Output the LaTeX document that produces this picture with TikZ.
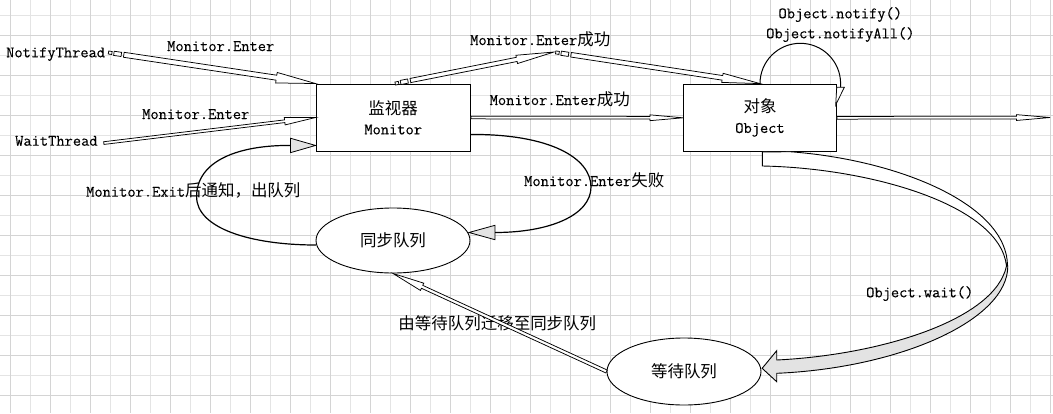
\documentclass[tikz,border=0pt]{standalone}
\usepackage{fontspec}
\setmonofont[FakeBold=0.25]{Latin Modern Mono}
\newfontfamily\cjkfont[Scale=1.03]{Noto Sans CJK SC}
\usetikzlibrary{calc,shapes.geometric}
\definecolor{gridmaj}{HTML}{D4D4D4}
\definecolor{gridmin}{HTML}{E4E4E4}
\definecolor{headgray}{HTML}{E3E3E3}
\tikzset{
  lbl/.style={font=\ttfamily\fontsize{16}{20}\selectfont, inner sep=0pt},
  box/.style={draw=black, line width=0.9pt, fill=white, rectangle, align=center, inner sep=0pt,
    font=\ttfamily\fontsize{16}{20}\selectfont},
  ell/.style={draw=black, line width=0.9pt, fill=white, ellipse, inner sep=0pt,
    font=\fontsize{16}{20}\selectfont},
  hollowline/.style={draw=black, line width=0.75pt, fill=white, line join=miter},
  curvearr/.style={draw=black, line width=1.2pt},
  grayhead/.style={draw=black, line width=0.8pt, fill=headgray, line join=miter},
  ribbon/.style={draw=black, line width=0.9pt, line join=miter},
  gridmajor/.style={draw=gridmaj, line width=1pt},
  gridminor/.style={draw=gridmin, line width=1pt},
}
% #1 from, #2 to, #3 head length, #4 head half width, #5 band half width, #6 start dashes (0/1)
\newcommand\hollowarrow[6]{%
  \path let \p1=(#1), \p2=(#2) in \pgfextra{%
    \pgfmathparse{atan2(\y2-\y1,\x2-\x1)}\xdef\HAang{\pgfmathresult}%
    \pgfmathparse{veclen(\x2-\x1,\y2-\y1)}\xdef\HAlen{\pgfmathresult}%
    \xdef\HAx{\x1}\xdef\HAy{\y1}};
  \begin{scope}[shift={(\HAx,\HAy)}, rotate=\HAang]
    \ifnum#6=1
      \draw[hollowline] (0pt,-1.5pt) -- (3.5pt,-1.5pt) -- (3.5pt,1.5pt) -- (0pt,1.5pt) -- cycle;
      \draw[hollowline] (5.5pt,-2.1pt) -- (13pt,-2.1pt) -- (13pt,2.1pt) -- (5.5pt,2.1pt) -- cycle;
      \def\HAs{15.5}%
    \else
      \def\HAs{0}%
    \fi
    \draw[hollowline] (\HAs pt,-#5pt) -- ({\HAlen pt-#3pt},-#5pt) -- ({\HAlen pt-#3pt},-#4pt)
      -- (\HAlen pt,0pt) -- ({\HAlen pt-#3pt},#4pt) -- ({\HAlen pt-#3pt},#5pt) -- (\HAs pt,#5pt) -- cycle;
  \end{scope}
}
\begin{document}
\begin{tikzpicture}[x=1pt,y=-1pt]
\useasboundingbox (0,0) rectangle (1053,413);
\fill[white] (0,0) rectangle (1053,413);
% grid
\foreach \gx in {30.5,70.5,...,1031} \draw[gridminor] (\gx,0) -- (\gx,413);
\foreach \gy in {15.5,55.5,...,376} \draw[gridminor] (0,\gy) -- (1053,\gy);
\foreach \gx in {10.5,50.5,...,1051} \draw[gridmajor] (\gx,0) -- (\gx,413);
\foreach \gy in {35.5,75.5,...,396} \draw[gridmajor] (0,\gy) -- (1053,\gy);

% main nodes
\node[box, minimum width=154.5pt, minimum height=67pt] (mon) at (393.2,117.5) {{\cjkfont 监视器}\\Monitor};
\node[box, minimum width=153pt, minimum height=67.5pt] (obj) at (760,117.8) {{\cjkfont 对象}\\Object};
\node[ell, minimum width=154pt, minimum height=65pt] (sq) at (393,240.5) {\cjkfont 同步队列};
\node[ell, minimum width=154pt, minimum height=67pt] (wq) at (684,371.5) {\cjkfont 等待队列};

% text nodes
\node[lbl, anchor=base west] (nt) at (6,57.3) {NotifyThread};
\node[lbl, anchor=base west] (wt) at (15,145.7) {WaitThread};
\node[lbl, anchor=base west] (l1) at (167,51) {Monitor.Enter};
\node[lbl, anchor=base west] (l2) at (142,119) {Monitor.Enter};
\node[lbl, anchor=base west] (l3) at (470,45) {Monitor.Enter{\cjkfont 成功}};
\node[lbl, anchor=base west] (l4) at (489.5,105) {Monitor.Enter{\cjkfont 成功}};
\node[lbl, anchor=base west] (l5) at (778.3,18.3) {Object.notify()};
\node[lbl, anchor=base west] (l6) at (766,38.3) {Object.notifyAll()};
\node[lbl, anchor=base west] (l7) at (86,196.7) {Monitor.Exit{\cjkfont 后通知，出队列}};
\node[lbl, anchor=base west] (l8) at (524,186) {Monitor.Enter{\cjkfont 失败}};
\node[lbl, anchor=base west] (l9) at (866,297.3) {Object.wait()};
\node[lbl] (l10) at (497.3,323.3) {\cjkfont 由等待队列迁移至同步队列};

% connector end points
\coordinate (ntS) at ($(nt.east)+(3.2,-1.7)$);
\coordinate (wtS) at ($(wt.east)+(6,2.2)$);
\coordinate (monTop) at ($(mon.north)+(2,0)$);
\coordinate (mid) at (554,52);
\coordinate (midS) at ($(mid)+(1.7,0.4)$);
\coordinate (rEnd) at (1050,117.5);
\coordinate (mL) at ($(mon.south west)+(0,-6)$);
\coordinate (sqL) at ($(sq.west)+(0.5,4.5)$);
\coordinate (mR) at ($(mon.south east)+(0,-17)$);
\coordinate (sqR) at ($(sq.east)+(-1.5,-8)$);
\coordinate (wS) at ($(obj.south)+(2.3,0)$);
\coordinate (wT) at ($(wq.east)+(0.7,-3.2)$);

% hollow thin arrows
\hollowarrow{ntS}{mon.north west}{39.5}{5.3}{2.5}{1}
\hollowarrow{wtS}{mon.west}{31}{3.7}{1.35}{0}
\hollowarrow{monTop}{mid}{38}{4.2}{2.1}{1}
\hollowarrow{midS}{obj.north}{38}{4.6}{2.3}{1}
\hollowarrow{mon.east}{obj.west}{33}{2.9}{1.35}{0}
\hollowarrow{obj.east}{rEnd}{33.5}{2.9}{1.35}{0}
\hollowarrow{wq.west}{sq.south}{32}{4}{1.6}{0}

% Monitor.Exit curve (sync queue -> monitor)
\draw[curvearr] (sqL) .. controls (250,245) and (196.6,228) .. (196.6,196.7)
  .. controls (196.6,160) and (240,145) .. ($(mL)+(-25,0)$);
\draw[grayhead] (mL) -- ++(-25,-7.2) -- ++(0,14.4) -- cycle;

% Monitor.Enter failed curve (monitor -> sync queue)
\draw[curvearr] (mR) .. controls (550,134) and (591,158) .. (591,187)
  .. controls (591,215) and (550,232.5) .. ($(sqR)+(26,0)$);
\draw[grayhead] (sqR) -- ++(26,-7.2) -- ++(0,14.4) -- cycle;

% notify self loop
\draw[line width=1pt] (obj.north) arc[start angle=180, end angle=360, radius=40.3] -- (840.5,87.3);
\draw[hollowline] (836.7,87.3) -- (844.3,87.3) -- (835.7,105) -- cycle;

% Object.wait ribbon arrow
\draw[ribbon, fill=white] (wS) -- (790,151.7) .. controls (900,160) and (1007.5,205) .. (1007.5,266)
  -- (1006.5,266) .. controls (1000,205) and (870,168) .. (762.3,166) -- cycle;
\draw[ribbon, fill=headgray] (1007.8,266) .. controls (1008,320) and (900,368) .. (776.7,373.3)
  -- (776.7,381.7) -- (wT) -- (776.7,350.7) -- (776.7,360)
  .. controls (880,355) and (995,320) .. (1006.5,266) -- cycle;
\end{tikzpicture}
\end{document}
